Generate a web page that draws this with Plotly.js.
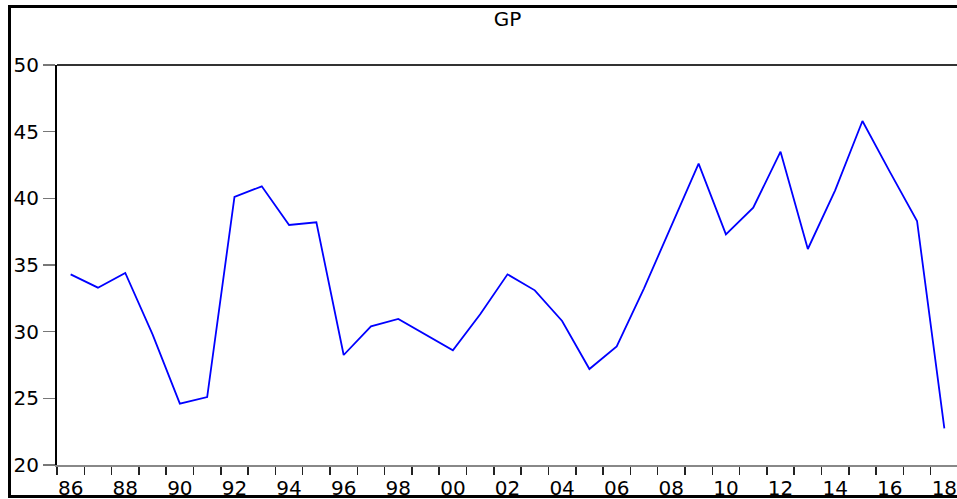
<!DOCTYPE html>
<html>
<head>
<meta charset="utf-8">
<script src="https://cdn.plot.ly/plotly-3.0.1.min.js"></script>
<style>
  html, body { margin: 0; padding: 0; overflow: hidden; background: #fff; }
  #chart { position: absolute; left: 0; top: 0; width: 960px; height: 499px; }
  #frame { position: absolute; left: 8px; top: 5px; width: 1000px; height: 493px;
           border: 3px solid #000; box-sizing: border-box; pointer-events: none; }
</style>
</head>
<body>
<div id="chart"></div>
<div id="frame"></div>
<script>
// annual GP series, 1986-2018
var years = [1986, 1987, 1988, 1989, 1990, 1991, 1992, 1993, 1994, 1995, 1996,
             1997, 1998, 1999, 2000, 2001, 2002, 2003, 2004, 2005, 2006, 2007,
             2008, 2009, 2010, 2011, 2012, 2013, 2014, 2015, 2016, 2017, 2018];
var gp = [34.3, 33.3, 34.4, 29.8, 24.6, 25.1, 40.1, 40.9, 38.0, 38.2, 28.25,
          30.4, 30.95, 29.8, 28.6, 31.3, 34.3, 33.1, 30.8, 27.2, 28.9, 33.25,
          37.9, 42.6, 37.3, 39.3, 43.5, 36.2, 40.6, 45.8, 42.0, 38.3, 22.75];

// tick labels shown every second year
var label_years = [];
var label_text = [];
for (let i = 0; i < years.length; i += 2) {
  label_years.push(years[i]);
  label_text.push(String(years[i]).slice(2));
}
var y_ticks = [20, 25, 30, 35, 40, 45, 50];

var font_name = 'DejaVu Sans, Liberation Sans, Arial, sans-serif';

var trace = {
  x: years,
  y: gp,
  type: 'scatter',
  mode: 'lines',
  line: { color: '#0000ff', width: 1.8 },
  hoverinfo: 'x+y'
};

var layout = {
  width: 960,
  height: 499,
  margin: { l: 57, r: 2, t: 65, b: 34 },
  paper_bgcolor: '#ffffff',
  plot_bgcolor: '#ffffff',
  showlegend: false,
  font: { family: font_name, size: 20, color: '#000' },
  title: {
    text: 'GP',
    font: { family: font_name, size: 20, color: '#000' },
    xref: 'paper', x: 0.5, xanchor: 'center',
    yref: 'container', y: 0.962, yanchor: 'middle'
  },
  xaxis: {
    range: [years[0] - 0.5, years[years.length - 1] + 0.5],
    tickmode: 'array',
    tickvals: label_years,
    ticktext: label_text,
    ticks: '',
    ticklabelstandoff: 4,
    showgrid: false,
    zeroline: false,
    showline: true,
    linecolor: '#888',
    linewidth: 1.5,
    minor: {
      tick0: years[0] - 0.5,
      dtick: 1,
      ticks: 'outside',
      ticklen: 8,
      tickwidth: 1.5,
      tickcolor: '#222',
      showgrid: false
    },
    fixedrange: true
  },
  yaxis: {
    range: [20, 50],
    tickmode: 'array',
    tickvals: y_ticks,
    ticks: 'outside',
    ticklen: 12,
    tickwidth: 1.5,
    tickcolor: '#777',
    ticklabelstandoff: 0,
    showgrid: false,
    zeroline: false,
    showline: true,
    linecolor: '#000',
    linewidth: 2,
    fixedrange: true
  },
  shapes: [{
    type: 'line', xref: 'paper', yref: 'paper',
    x0: 0, x1: 1, y0: 1, y1: 1,
    line: { color: '#333', width: 2 }
  }]
};

Plotly.newPlot('chart', [trace], layout, { displayModeBar: false, staticPlot: true });
</script>
</body>
</html>
